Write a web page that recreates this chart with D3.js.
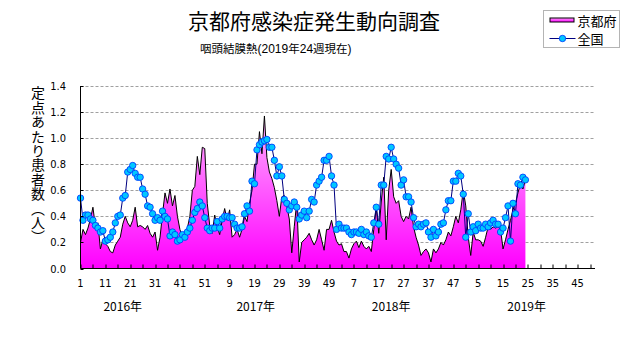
<!DOCTYPE html>
<html>
<head>
<meta charset="utf-8">
<script src="https://cdn.jsdelivr.net/npm/d3@7"></script>
<style>
  body { margin: 0; background: #fff; }
  svg { display: block; font-family: "Noto Sans CJK JP", sans-serif; }
</style>
</head>
<body>
<svg id="chart"></svg>
<script>
// weeks shown for each year on the axis
const years = ['2016年', '2017年', '2018年', '2019年'];
const weeksPerYear = [52, 52, 52, 52];

const xTickLabels = ['1', '11', '21', '31', '41', '51', '9', '19', '29', '39', '49',
  '7', '17', '27', '37', '47', '5', '15', '25', '35', '45'];
const yTickLabels = ['0.0', '0.2', '0.4', '0.6', '0.8', '1.0', '1.2', '1.4'];

const seriesNames = ['京都府', '全国'];

// 京都府 定点あたり患者数 2016w1 - 2019w24
const kyoto2016 = [0.20, 0.30, 0.26, 0.31, 0.38, 0.47, 0.32, 0.35, 0.15, 0.22,
  0.19, 0.17, 0.13, 0.12, 0.18, 0.21, 0.24, 0.34, 0.40, 0.35,
  0.32, 0.37, 0.47, 0.32, 0.33, 0.32, 0.30, 0.33, 0.27, 0.24,
  0.28, 0.14, 0.24, 0.42, 0.58, 0.50, 0.61, 0.48, 0.56, 0.40,
  0.30, 0.24, 0.28, 0.31, 0.40, 0.60, 0.63, 0.86, 0.72, 0.93,
  0.92, 0.50];
const kyoto2017 = [0.33, 0.27, 0.41, 0.32, 0.26, 0.37, 0.46, 0.37, 0.45, 0.24,
  0.26, 0.30, 0.24, 0.30, 0.40, 0.36, 0.50, 0.60, 0.80, 0.80,
  1.05, 0.88, 1.17, 0.85, 0.74, 0.69, 0.62, 0.52, 0.40, 0.55,
  0.56, 0.48, 0.38, 0.12, 0.32, 0.51, 0.05, 0.20, 0.22, 0.24,
  0.27, 0.22, 0.18, 0.22, 0.30, 0.22, 0.14, 0.30, 0.30, 0.37,
  0.28, 0.21];
const kyoto2018 = [0.18, 0.19, 0.13, 0.13, 0.08, 0.15, 0.19, 0.21, 0.16, 0.21,
  0.17, 0.15, 0.17, 0.13, 0.30, 0.47, 0.27, 0.51, 0.70, 0.22,
  0.60, 0.76, 0.55, 0.50, 0.52, 0.40, 0.36, 0.40, 0.38, 0.47,
  0.32, 0.24, 0.18, 0.10, 0.13, 0.15, 0.12, 0.05, 0.15, 0.12,
  0.15, 0.20, 0.18, 0.22, 0.28, 0.25, 0.32, 0.40, 0.35, 0.45,
  0.60, 0.48];
const kyoto2019 = [0.24, 0.10, 0.28, 0.22, 0.22, 0.21, 0.17, 0.24, 0.32, 0.30,
  0.32, 0.31, 0.32, 0.30, 0.15, 0.22, 0.30, 0.37, 0.45, 0.50,
  0.58, 0.65, 0.61, 0.68];

// 全国
const national2016 = [0.54, 0.37, 0.41, 0.41, 0.38, 0.37, 0.33, 0.31, 0.28, 0.29,
  0.21, 0.22, 0.24, 0.28, 0.35, 0.40, 0.41, 0.54, 0.56, 0.74,
  0.76, 0.79, 0.73, 0.70, 0.70, 0.61, 0.57, 0.48, 0.47, 0.42,
  0.37, 0.39, 0.37, 0.44, 0.40, 0.38, 0.25, 0.28, 0.26, 0.21,
  0.22, 0.26, 0.24, 0.28, 0.31, 0.37, 0.43, 0.46, 0.51, 0.48,
  0.39, 0.31];
const national2017 = [0.29, 0.31, 0.31, 0.36, 0.31, 0.38, 0.40, 0.40, 0.39, 0.39,
  0.34, 0.31, 0.31, 0.32, 0.42, 0.48, 0.44, 0.67, 0.65, 0.91,
  0.95, 0.97, 0.98, 0.99, 0.93, 0.93, 0.83, 0.71, 0.78, 0.71,
  0.53, 0.50, 0.45, 0.48, 0.51, 0.47, 0.38, 0.41, 0.44, 0.39,
  0.44, 0.53, 0.51, 0.64, 0.67, 0.70, 0.83, 0.83, 0.86, 0.71,
  0.64, 0.30];
const national2018 = [0.34, 0.31, 0.31, 0.31, 0.28, 0.26, 0.28, 0.28, 0.27, 0.30,
  0.26, 0.28, 0.25, 0.24, 0.35, 0.47, 0.34, 0.64, 0.64, 0.86,
  0.84, 0.93, 0.84, 0.80, 0.77, 0.64, 0.68, 0.55, 0.55, 0.51,
  0.39, 0.32, 0.34, 0.32, 0.34, 0.35, 0.28, 0.24, 0.30, 0.25,
  0.28, 0.34, 0.35, 0.45, 0.52, 0.52, 0.67, 0.67, 0.73, 0.71,
  0.57, 0.24];
const national2019 = [0.42, 0.28, 0.32, 0.29, 0.34, 0.31, 0.31, 0.34, 0.32, 0.35,
  0.37, 0.34, 0.34, 0.28, 0.31, 0.39, 0.48, 0.21, 0.50, 0.42,
  0.65, 0.64, 0.70, 0.68];

// subtitle pieces: [text, half-width?]
const subtitleParts = [['咽頭結膜熱', false], ['(2019', true], ['年', false],
  ['24', true], ['週現在', false], [')', true]];

class WeeklyChart {
  constructor(_config) {
    this.config = {
      parentElement: _config.parentElement,
      containerWidth: _config.containerWidth || 631,
      containerHeight: _config.containerHeight || 347,
      margin: _config.margin || {top: 86, bottom: 78.5, right: 36, left: 80.5}
    };
    this.kyoto = [].concat(kyoto2016, kyoto2017, kyoto2018, kyoto2019);
    this.national = [].concat(national2016, national2017, national2018, national2019);
    this.initVis();
  }

  initVis() {
    let vis = this;
    vis.width = vis.config.containerWidth - vis.config.margin.left - vis.config.margin.right;
    vis.height = vis.config.containerHeight - vis.config.margin.top - vis.config.margin.bottom;
    vis.nWeeks = d3.sum(weeksPerYear);

    vis.xScale = d3.scaleLinear()
        .domain([0, vis.nWeeks - 1])
        .range([0, vis.width]);

    vis.yScale = d3.scaleLinear()
        .domain([0, 1.4])
        .range([vis.height, 0]);

    vis.svg = d3.select(vis.config.parentElement)
        .attr('width', vis.config.containerWidth)
        .attr('height', vis.config.containerHeight);

    let grad = vis.svg.append('defs').append('linearGradient')
        .attr('id', 'pinkFill')
        .attr('gradientUnits', 'userSpaceOnUse')
        .attr('x1', 0).attr('x2', 0)
        .attr('y1', vis.height).attr('y2', vis.yScale(1.2));
    grad.append('stop').attr('offset', 0).attr('stop-color', '#ff00ff');
    grad.append('stop').attr('offset', 1).attr('stop-color', '#ffb4ff');

    let lg = vis.svg.select('defs').append('linearGradient')
        .attr('id', 'legendFill')
        .attr('x1', 0).attr('x2', 0).attr('y1', 1).attr('y2', 0);
    lg.append('stop').attr('offset', 0).attr('stop-color', '#ff00ff');
    lg.append('stop').attr('offset', 1).attr('stop-color', '#ff9cff');

    vis.chart = vis.svg.append('g')
        .attr('transform', `translate(${vis.config.margin.left},${vis.config.margin.top})`);

    // titles
    vis.svg.append('text')
        .attr('x', 314).attr('y', 29)
        .attr('text-anchor', 'middle')
        .style('font-size', '21px')
        .text('京都府感染症発生動向調査');

    vis.svg.append('text')
        .attr('x', 200).attr('y', 53)
        .style('font-size', '11.5px')
      .selectAll('tspan')
        .data(subtitleParts)
        .join('tspan')
        .style('font-family', d => d[1] ? '"Liberation Sans Narrow", sans-serif' : null)
        .style('font-size', d => d[1] ? '12px' : null)
        .text(d => d[0]);

    vis.svg.append('text')
        .attr('x', 38).attr('y', 86)
        .style('writing-mode', 'vertical-rl')
        .style('font-size', '14px')
        .style('letter-spacing', '0.4px')
        .text('定点あたり患者数（人）');

    this.updateVis();
  }

  updateVis() {
    let vis = this;
    vis.yearStart = d3.cumsum([0].concat(weeksPerYear));
    vis.renderVis();
  }

  renderVis() {
    let vis = this;
    const x = vis.xScale, y = vis.yScale;

    // dashed grid
    vis.chart.selectAll('.grid')
        .data(yTickLabels.slice(1))
        .join('line')
        .attr('class', 'grid')
        .attr('x1', 0).attr('x2', vis.width)
        .attr('y1', d => Math.round(y(+d)) + 0.5)
        .attr('y2', d => Math.round(y(+d)) + 0.5)
        .attr('stroke', '#a0a0a0')
        .attr('stroke-dasharray', '3,2');

    // 京都府 area
    const area = d3.area()
        .x((d, i) => x(i))
        .y0(vis.height)
        .y1(d => y(d));
    vis.chart.append('path')
        .datum(vis.kyoto)
        .attr('d', area)
        .attr('fill', 'url(#pinkFill)');
    vis.chart.append('path')
        .datum(vis.kyoto)
        .attr('d', d3.line().x((d, i) => x(i)).y(d => y(d)))
        .attr('fill', 'none')
        .attr('stroke', '#000')
        .attr('stroke-width', 1);

    // 全国 line + markers
    vis.chart.append('path')
        .datum(vis.national)
        .attr('d', d3.line().x((d, i) => x(i)).y(d => y(d)))
        .attr('fill', 'none')
        .attr('stroke', '#000080')
        .attr('stroke-width', 1);
    vis.chart.selectAll('.dot')
        .data(vis.national)
        .join('circle')
        .attr('class', 'dot')
        .attr('cx', (d, i) => x(i))
        .attr('cy', d => y(d))
        .attr('r', 3.2)
        .attr('fill', '#00c8ff')
        .attr('stroke', '#0040ff')
        .attr('stroke-width', 0.9);

    // axes
    vis.chart.append('line')
        .attr('x1', 0).attr('x2', 0).attr('y1', 0).attr('y2', vis.height)
        .attr('stroke', '#000');
    vis.chart.append('line')
        .attr('x1', 0).attr('x2', vis.width).attr('y1', vis.height).attr('y2', vis.height)
        .attr('stroke', '#000');

    vis.chart.selectAll('.ytick')
        .data(yTickLabels)
        .join('line')
        .attr('class', 'ytick')
        .attr('x1', 0).attr('x2', 3)
        .attr('y1', d => Math.round(y(+d)) + 0.5)
        .attr('y2', d => Math.round(y(+d)) + 0.5)
        .attr('stroke', '#000');

    vis.chart.selectAll('.ylabel')
        .data(yTickLabels)
        .join('text')
        .attr('class', 'ylabel')
        .attr('x', -14.5)
        .attr('y', d => y(+d) + 4)
        .attr('text-anchor', 'end')
        .style('font-family', '"Liberation Sans Narrow", "DejaVu Sans Condensed", sans-serif')
        .style('font-size', '11px')
        .text(d => d);

    vis.chart.selectAll('.xtick')
        .data(d3.range(0, vis.nWeeks, 5))
        .join('line')
        .attr('class', 'xtick')
        .attr('x1', d => Math.round(x(d)) + 0.5)
        .attr('x2', d => Math.round(x(d)) + 0.5)
        .attr('y1', vis.height).attr('y2', vis.height - 4)
        .attr('stroke', '#000');

    vis.chart.selectAll('.xlabel')
        .data(xTickLabels)
        .join('text')
        .attr('class', 'xlabel')
        .attr('x', (d, i) => x(i * 10))
        .attr('y', vis.height + 18)
        .attr('text-anchor', 'middle')
        .style('font-family', '"Liberation Sans Narrow", "DejaVu Sans Condensed", sans-serif')
        .style('font-size', '11px')
        .text(d => d);

    // year captions sit about 18 weeks into each year
    const yearOffset = [17, 18.5, 21, 23.5];
    vis.chart.selectAll('.year')
        .data(years)
        .join('text')
        .attr('class', 'year')
        .attr('x', (d, i) => x(vis.yearStart[i] + yearOffset[i]))
        .attr('y', vis.height + 42)
        .attr('text-anchor', 'middle')
        .style('font-size', '12px')
        .text(d => d);

    // legend
    const leg = vis.svg.append('g').attr('transform', 'translate(543.5,10.5)');
    leg.append('rect')
        .attr('width', 76).attr('height', 37)
        .attr('fill', '#fff')
        .attr('stroke', '#b4b4b4');
    leg.append('rect')
        .attr('x', 6.5).attr('y', 7.5).attr('width', 24).attr('height', 4)
        .attr('fill', 'url(#legendFill)')
        .attr('stroke', '#000');
    leg.append('line')
        .attr('x1', 6).attr('x2', 32).attr('y1', 28).attr('y2', 28)
        .attr('stroke', '#000080');
    leg.append('circle')
        .attr('cx', 19).attr('cy', 28).attr('r', 3.2)
        .attr('fill', '#00c8ff').attr('stroke', '#0040ff').attr('stroke-width', 0.9);
    leg.selectAll('.legtext')
        .data(seriesNames)
        .join('text')
        .attr('class', 'legtext')
        .attr('x', 34).attr('y', (d, i) => 15 + i * 18)
        .style('font-size', '13px')
        .text(d => d);
  }
}

let chart = new WeeklyChart({parentElement: '#chart'});
</script>
</body>
</html>
